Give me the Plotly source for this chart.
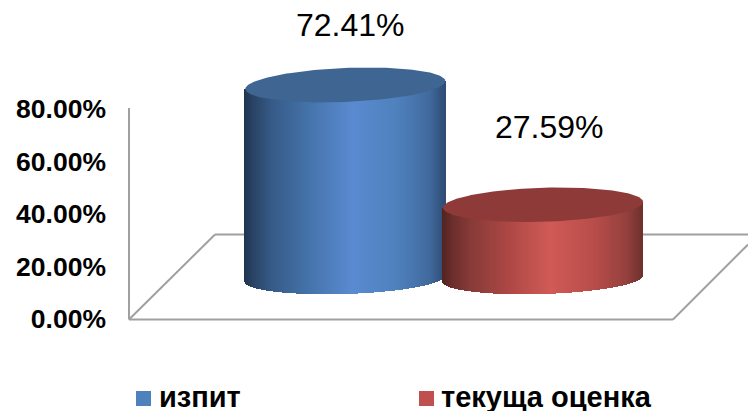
import numpy as np
import plotly.graph_objects as go

# data
categories = ["изпит", "текуща оценка"]
values = [72.41, 27.59]
value_labels = ["72.41%", "27.59%"]
tick_values = [0, 20, 40, 60, 80]
tick_labels = ["<b>0.00%</b>", "<b>20.00%</b>", "<b>40.00%</b>", "<b>60.00%</b>", "<b>80.00%</b>"]

# style
legend_colors = ["#4f81bd", "#c0504d"]
top_colors = ["#3f6592", "#8d3a38"]
grad_pos = [0, .05, .14, .34, .54, .76, .925, 1]
grad_cols = [
    ["#1f3550", "#2a4567", "#365b88", "#4675ad", "#5a8ad0", "#4f81bd", "#416a9e", "#2f4d75"],
    ["#4f2320", "#6a2e2b", "#873a37", "#ae4845", "#d05a56", "#b84d4a", "#93403c", "#6f302d"],
]

# layout constants: plot is mapped 1:1 with the window horizontally
W, H = 748, 411
LEFT = 107
Y0 = 319.0          # window row of 0 %
PX = 2.625          # pixels per 1 %
def row(p):
    return (Y0 - p) / PX

centers = [345.3, 543.0]
A, B_TOP, B_BOT = 100.0, 17.0, 15.5
SKEW_TOP, SKEW_BOT = [4.0, 3.0], 3.0
FLOOR = row(278.5)
K = 1.018
LABEL_X = [350, 549]
LABEL_ROW = [25, 127]


def hex_rgb(h):
    return np.array([int(h[i:i + 2], 16) for i in (1, 3, 5)], float)


def gradient(t, cols):
    rgb = np.array([hex_rgb(c) for c in cols])
    return [f"rgb({np.interp(v, grad_pos, rgb[:, 0]):.0f},{np.interp(v, grad_pos, rgb[:, 1]):.0f},{np.interp(v, grad_pos, rgb[:, 2]):.0f})" for v in t]


fig = go.Figure()
for i, (cat, v) in enumerate(zip(categories, values)):
    cx = centers[i]
    top = FLOOR + v * K
    xs = np.arange(np.floor(cx - A), np.ceil(cx + A)) + 0.5
    u = np.clip((xs - cx) / A, -1, 1)
    base = FLOOR - (B_BOT * np.sqrt(1 - u ** 2) - SKEW_BOT * u) / PX
    strip_top = top + SKEW_TOP[i] * u / PX
    fig.add_trace(go.Bar(
        x=xs, y=strip_top - base, base=base, width=1.3,
        marker=dict(color=gradient((u + 1) / 2, grad_cols[i]), line=dict(width=0)),
        name=cat, showlegend=False, hoverinfo="skip",
    ))

for i, (cat, v) in enumerate(zip(categories, values)):
    cx = centers[i]
    top = FLOOR + v * K
    th = np.linspace(0, 2 * np.pi, 181)
    fig.add_trace(go.Scatter(
        x=cx + A * np.cos(th),
        y=top - (B_TOP * np.sin(th) - SKEW_TOP[i] * np.cos(th)) / PX,
        mode="lines", fill="toself", fillcolor=top_colors[i],
        line=dict(width=0, color=top_colors[i]),
        showlegend=False, hoverinfo="skip",
    ))

# legend swatches drawn with the library's markers
legend_x = [143.5, 426.5]
legend_text_x = [157, 439]
LEGEND_ROW = 398.5
for i, cat in enumerate(categories):
    fig.add_trace(go.Scatter(
        x=[legend_x[i]], y=[row(LEGEND_ROW)], mode="markers",
        marker=dict(symbol="square", size=15, color=legend_colors[i]),
        showlegend=False, hoverinfo="skip",
    ))
    fig.add_annotation(x=legend_text_x[i], y=row(LEGEND_ROW - 1.5), text=f"<b>{cat}</b>",
                       xanchor="left", yanchor="middle", showarrow=False,
                       font=dict(family="Liberation Sans", size=29, color="#000000"))

for i, lab in enumerate(value_labels):
    fig.add_annotation(x=LABEL_X[i], y=row(LABEL_ROW[i]), text=lab,
                       xanchor="center", yanchor="middle", showarrow=False,
                       font=dict(family="Liberation Sans", size=32, color="#000000"))

# floor frame and value axis, below the marks
line = dict(color="#a0a0a0", width=2)
frame = [
    (129, 108, 129, 319.5),
    (129, 319.5, 673, 319.5),
    (129, 319.5, 215, 234.5),
    (215, 234.5, 748, 234.5),
    (673, 319.5, 748, 244.5),
]
for x0, r0, x1, r1 in frame:
    fig.add_shape(type="line", x0=x0, x1=x1, y0=row(r0), y1=row(r1), line=line, layer="below")

fig.update_layout(
    width=W, height=H, autosize=False, barmode="overlay", bargap=0,
    margin=dict(l=LEFT, r=0, t=0, b=0), paper_bgcolor="white", plot_bgcolor="white",
    showlegend=False,
    xaxis=dict(range=[LEFT, W], visible=False, fixedrange=True),
    yaxis=dict(
        range=[row(H), row(0)], tickvals=tick_values, ticktext=tick_labels,
        showgrid=False, zeroline=False, showline=False, ticks="", fixedrange=True,
        automargin=False,
        tickfont=dict(family="Liberation Sans", size=26.5, color="#000000"),
    ),
)

fig.write_html("out.html", config={"displayModeBar": False},
               post_script="document.body.style.margin='0';document.body.style.overflow='hidden';")
